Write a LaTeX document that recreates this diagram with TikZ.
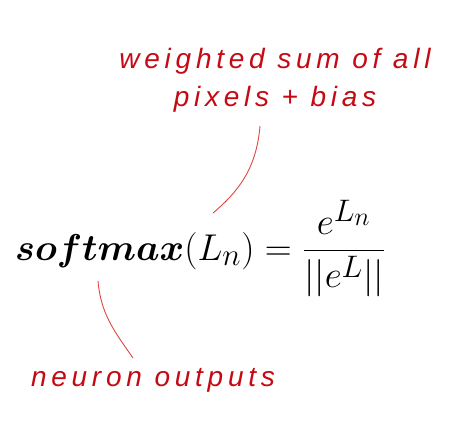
\documentclass[tikz,border=0pt]{standalone}
\usepackage{amsmath}
\usepackage{bm}
\usepackage{graphicx}
\usepackage{fontspec}
\newfontfamily\notefont[LetterSpace=17]{Liberation Sans Italic}
\usetikzlibrary{positioning}

\definecolor{notered}{HTML}{C40A14}
\definecolor{linered}{HTML}{E0453F}

\tikzset{
  note/.style={text=notered,font=\notefont\fontsize{28}{38}\selectfont,align=center,inner sep=0pt},
  formulabox/.style={inner sep=0pt,font=\fontsize{24.88}{30}\selectfont},
  pointer/.style={linered,line width=0.9pt}
}

\begin{document}
\begin{tikzpicture}[x=1pt,y=-1pt]
  \useasboundingbox (0,0) rectangle (466,429);
  \node[formulabox,anchor=base west] (formula) at (15,260)
    {\scalebox{1.5}{$\bm{softmax}(L_n) = \dfrac{e^{L_n}}{\vert\vert e^L\vert\vert}$}};
  \node[note] (sumnote) at (275,80) {weighted sum of all\\pixels + bias};
  \node[note] (outnote) at (153,380) {neuron outputs};
  \coordinate (ln) at (213,213);
  \coordinate (soft) at (98,281);
  \coordinate (sumfoot) at (260,126);
  \coordinate (outtop) at (133,358);
  \draw[pointer] (sumfoot) to[out=-95,in=40] (ln);
  \draw[pointer] (soft) to[out=-85,in=125] (outtop);
\end{tikzpicture}
\end{document}
